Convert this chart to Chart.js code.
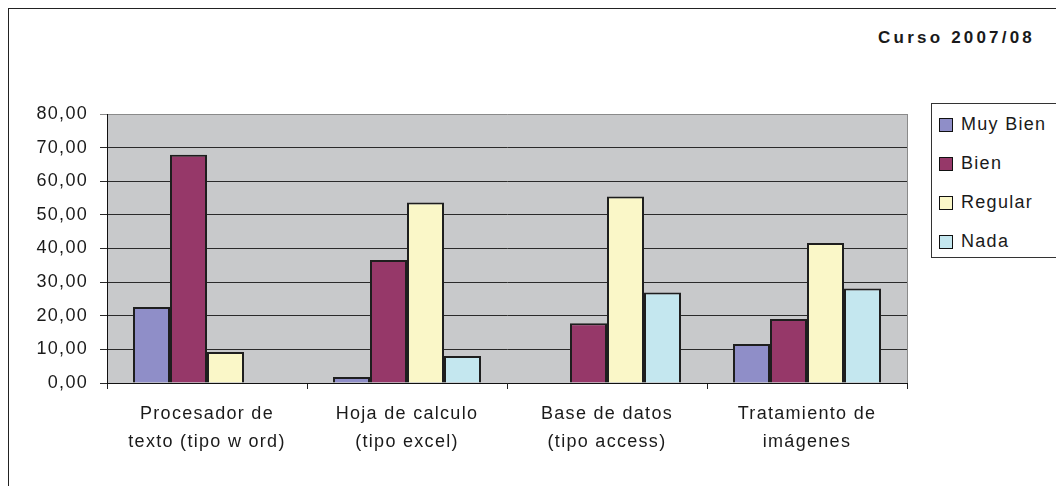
<!DOCTYPE html>
<html>
<head>
<meta charset="utf-8">
<script src="https://cdn.jsdelivr.net/npm/chart.js@4/dist/chart.umd.min.js"></script>
<style>
  body { margin: 0; background: #fff; font-family: "Liberation Sans", Arial, sans-serif; }
  #wrap { position: relative; width: 1056px; height: 486px; overflow: hidden; }
  #frame { position: absolute; left: 8px; top: 8px; width: 1100px; height: 500px; border: 1px solid #222; }
  #title { position: absolute; right: 21px; top: 28px; font-weight: bold; font-size: 17px; letter-spacing: 3.2px; color: #1a1a1a; }
  #legend { position: absolute; left: 931px; top: 103px; width: 140px; height: 155px; border: 1px solid #333; padding-top: 1px; box-sizing: border-box; }
  .item { height: 39px; line-height: 39px; font-size: 18px; letter-spacing: 1.3px; color: #1a1a1a; display: flex; align-items: center; }
  .sw { width: 12px; height: 12px; border: 1px solid #111; margin-left: 7px; margin-right: 8px; }
  canvas { position: absolute; left: 0; top: 0; }
</style>
</head>
<body>
<div id="wrap">
  <div id="frame"></div>
  <div id="title">Curso 2007/08</div>
  <div id="legend"></div>
  <canvas id="chart" width="1056" height="486"></canvas>
</div>
<script>
// categorias y series (porcentajes)
const categories = [
  ['Procesador de', 'texto (tipo w ord)'],
  ['Hoja de calculo', '(tipo excel)'],
  ['Base de datos', '(tipo access)'],
  ['Tratamiento de', 'imágenes']
];
const seriesNames = ['Muy Bien', 'Bien', 'Regular', 'Nada'];
const muyBien = [22.6, 1.8, 0, 11.6];
const bien = [67.9, 36.6, 17.8, 19.0];
const regular = [9.2, 53.7, 55.5, 41.6];
const nada = [0, 8.0, 26.9, 28.1];
const colors = ['#8F8EC8', '#963869', '#FAF7C8', '#C4E7EF'];

const values = [muyBien, bien, regular, nada];

// leyenda
const legend = document.getElementById('legend');
seriesNames.forEach((name, i) => {
  const row = document.createElement('div');
  row.className = 'item';
  row.innerHTML = '<span class="sw" style="background:' + colors[i] + '"></span>' + name;
  legend.appendChild(row);
});

const plotBg = {
  id: 'plotBg',
  beforeLayout(chart) { chart.ctx.letterSpacing = '1.3px'; },
  beforeDraw(chart) {
    const { ctx, chartArea: a } = chart;
    ctx.letterSpacing = '1.3px';
    ctx.save();
    ctx.fillStyle = '#C8C9CB';
    ctx.fillRect(a.left, a.top, a.right - a.left, a.bottom - a.top);
    ctx.strokeStyle = '#8a8a8a';
    ctx.lineWidth = 1;
    ctx.beginPath();
    ctx.moveTo(a.right + 0.5, a.top);
    ctx.lineTo(a.right + 0.5, a.bottom);
    ctx.stroke();
    ctx.restore();
  }
};

new Chart(document.getElementById('chart'), {
  type: 'bar',
  data: {
    labels: categories,
    datasets: seriesNames.map((name, i) => ({
      label: name,
      data: values[i],
      backgroundColor: colors[i],
      borderColor: '#1e1e1e',
      borderWidth: 2,
      categoryPercentage: 0.74,
      barPercentage: 1
    }))
  },
  options: {
    responsive: false,
    animation: false,
    layout: { padding: { top: 114, right: 149, left: 0, bottom: 0 } },
    plugins: { legend: { display: false }, tooltip: { enabled: false } },
    scales: {
      y: {
        min: 0, max: 80,
        afterFit: s => { s.width = 107; },
        ticks: {
          stepSize: 10,
          padding: 12,
          color: '#1a1a1a',
          font: { family: 'Liberation Sans', size: 18 },
          callback: v => v.toFixed(2).replace('.', ',')
        },
        grid: {
          color: c => c.tick && c.tick.value === 80 ? '#8a8a8a' : '#2a2a2a',
          tickLength: 7
        },
        border: { color: '#111', width: 1 }
      },
      x: {
        afterFit: s => { s.height = 103; },
        ticks: {
          padding: 11,
          color: '#1a1a1a',
          maxRotation: 0,
          font: { family: 'Liberation Sans', size: 18, lineHeight: 1.55 }
        },
        grid: { drawOnChartArea: false, tickLength: 6, color: '#222', offset: true },
        border: { color: '#111', width: 1 }
      }
    }
  },
  plugins: [plotBg]
});
</script>
</body>
</html>
